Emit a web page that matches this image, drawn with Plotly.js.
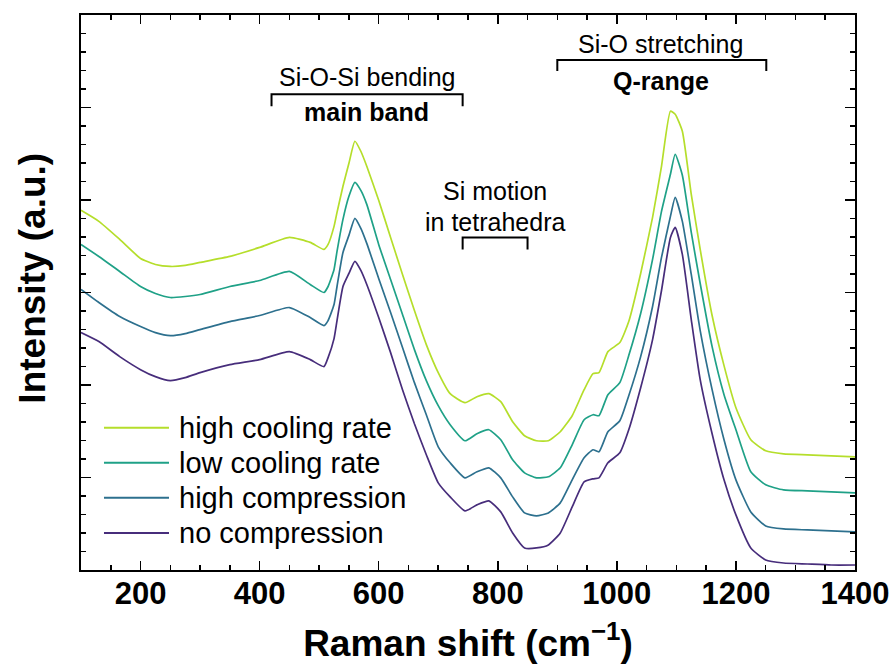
<!DOCTYPE html>
<html>
<head>
<meta charset="utf-8">
<script src="https://cdn.plot.ly/plotly-3.0.1.min.js"></script>
<style>html,body{margin:0;padding:0;background:#fff;}#chart{width:894px;height:669px;}</style>
</head>
<body>
<div id="chart"></div>
<script>
// Raman shift (cm^-1)
const ramanShift = [100,130,165,200,225,250,275,300,350,400,450,485,508,515,525,530,540,550,560,570,580,600,620,640,660,680,700,720,745,765,785,805,825,845,865,885,905,925,945,960,970,985,1005,1020,1040,1060,1075,1090,1098,1110,1125,1140,1160,1180,1200,1225,1250,1280,1320,1360,1400];
// Intensities (a.u., stacked)
const highCoolingRate = [359,348,330,311,305,303,304,307,313,322,332,327,320,325,343,357,383,406,428,418,403,369,332,295,259,225,197,176,167,173,176,168,148,134,129,129,138,154,180,196,197,218,227,248,296,352,403,458,455,438,375,320,254,204,162,130,119,116,115,114,113];
const lowCoolingRate = [325,313,298,283,276,272,273,275,283,289,298,285,277,283,300,318,350,373,387,379,365,325,290,255,220,189,164,145,129,136,140,130,110,97,92,93,102,125,150,155,154,175,187,214,256,310,358,395,415,394,337,286,223,175,140,98,85,80,79,78,77];
const highCompression = [280,267,253,243,237,234,236,240,248,254,262,252,244,249,265,283,317,334,351,341,326,291,257,222,187,155,123,107,92,98,102,92,73,57,54,57,67,90,112,120,118,138,149,174,213,263,312,353,372,348,295,239,180,130,90,58,44,41,40,39,38];
const noCompression = [237,228,213,200,193,189,192,197,205,210,218,210,203,212,231,249,283,296,308,299,285,252,217,180,146,115,87,73,59,65,69,58,37,22,22,25,37,63,88,91,92,107,117,140,182,230,279,332,342,315,250,190,136,90,55,22,10,7,6,5,5];

const seriesNames = ["high cooling rate","low cooling rate","high compression","no compression"];
const seriesData = [highCoolingRate, lowCoolingRate, highCompression, noCompression];
const seriesColors = ["#b5de2b","#1fa187","#2d708e","#472d7b"];

const FONT = "Arial, 'Liberation Sans', sans-serif";

const traces = seriesData.map((ys, i) => ({
  x: ramanShift, y: ys, type: "scatter", mode: "lines",
  name: seriesNames[i], showlegend: false,
  line: {color: seriesColors[i], width: 1.7, shape: "spline", smoothing: 0.5}
}));

const yMax = 554, yMajor = yMax / 6;

const bracket = (x0, x1, yTop, yEnd) => ({
  type: "path", xref: "x", yref: "y",
  path: `M${x0},${yEnd} L${x0},${yTop} L${x1},${yTop} L${x1},${yEnd}`,
  line: {color: "#000", width: 2}
});

const ann = (text, x, y, bold) => ({
  text: bold ? "<b>" + text + "</b>" : text, x: x, y: y, xref: "x", yref: "y",
  showarrow: false, xanchor: "center", yanchor: "middle",
  font: {family: FONT, size: 25, color: "#000"}
});

// legend (drawn in paper coordinates)
const legendRowsY = [0.2563, 0.1931, 0.1300, 0.0668];
const legendShapes = seriesNames.map((n, i) => ({
  type: "line", xref: "paper", yref: "paper",
  x0: 0.0297, x1: 0.1137, y0: legendRowsY[i], y1: legendRowsY[i],
  line: {color: seriesColors[i], width: 2}
}));
const legendTexts = seriesNames.map((n, i) => ({
  text: n, xref: "paper", yref: "paper", x: 0.124, y: legendRowsY[i],
  xanchor: "left", yanchor: "middle", showarrow: false,
  font: {family: FONT, size: 29, color: "#000"}
}));

const layout = {
  width: 894, height: 669,
  margin: {l: 81, r: 39, t: 15, b: 99},
  paper_bgcolor: "#fff", plot_bgcolor: "#fff",
  showlegend: false,
  xaxis: {
    range: [100, 1400], tick0: 0, dtick: 200,
    ticks: "inside", ticklen: 9, tickwidth: 1.5, tickcolor: "#000",
    minor: {dtick: 50, ticks: "inside", ticklen: 5, tickwidth: 1.5, tickcolor: "#000"},
    showline: true, linecolor: "#000", linewidth: 1.8, mirror: "ticks",
    showgrid: false, zeroline: false,
    tickfont: {family: FONT, size: 31, color: "#000", weight: "bold"},
    ticklabelstandoff: -5,
    title: {text: "<b>Raman shift (cm<sup>−1</sup>)</b>", font: {family: FONT, size: 37, color: "#000"}, standoff: 20}
  },
  yaxis: {
    range: [0, yMax], tick0: 0, dtick: yMajor,
    ticks: "inside", ticklen: 10, tickwidth: 1.5, tickcolor: "#000",
    minor: {dtick: yMajor / 5, ticks: "inside", ticklen: 5, tickwidth: 1.5, tickcolor: "#000"},
    showline: true, linecolor: "#000", linewidth: 1.8, mirror: "ticks",
    showgrid: false, zeroline: false, showticklabels: false
  },
  shapes: [
    bracket(420, 741, 475, 463),
    bracket(900, 1251, 509, 498),
    bracket(741, 850, 332, 320)
  ].concat(legendShapes),
  annotations: [
    ann("Si-O-Si bending", 580, 492, false),
    ann("main band", 580, 457, true),
    ann("Si-O stretching", 1074, 525, false),
    ann("Q-range", 1074, 488, true),
    ann("Si motion", 795, 378, false),
    ann("in tetrahedra", 795, 347, false),
    {text: "<b>Intensity (a.u.)</b>", xref: "paper", yref: "paper", x: -0.062, y: 0.525,
     xanchor: "center", yanchor: "middle", textangle: -90, showarrow: false,
     font: {family: FONT, size: 37, color: "#000"}}
  ].concat(legendTexts)
};

Plotly.newPlot("chart", traces, layout, {displayModeBar: false, staticPlot: true});
</script>
</body>
</html>
